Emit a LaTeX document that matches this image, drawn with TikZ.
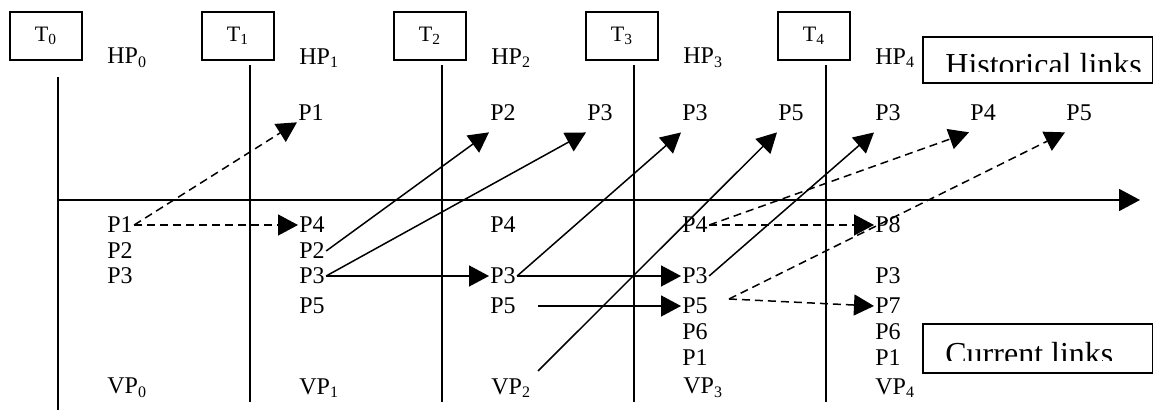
\documentclass[tikz,border=0pt]{standalone}
\usepackage{fontspec}
\setmainfont{Liberation Serif}
\usetikzlibrary{arrows.meta}
\tikzset{%
  time box/.style={
    draw,
    line width=0.9pt,
    minimum width=36pt,
    minimum height=24pt,
    font=\fontsize{11}{13}\selectfont
  },
  peer/.style={
    anchor=west,
    inner sep=0.5pt,
    font=\fontsize{12}{14}\selectfont
  },
  link box/.style={
    draw,
    line width=0.9pt,
    anchor=north west,
    minimum width=115pt
  },
  link text/.style={
    anchor=base west,
    inner sep=0pt,
    font=\fontsize{16}{19}\selectfont
  },
  time line/.style={line width=0.9pt},
  link/.style={-{Triangle[length=10pt,width=10.5pt]}, line width=0.75pt},
  old link/.style={link, dash pattern=on 4pt off 2.5pt},
}
\begin{document}
\begin{tikzpicture}[x=0.5pt, y=-0.5pt]
        \useasboundingbox (0,0) rectangle (1153,410);

        % time steps
        \foreach \i in {0,...,4} {
        \node [time box] (t\i) at (46+192*\i,36) {T\textsubscript{\i}};
        \node [peer] (hp\i) at (106+192*\i,58) {HP\textsubscript{\i}};
        \node [peer] (vp\i) at (106+192*\i,388) {VP\textsubscript{\i}};
        }
        \draw [time line] (58,77) -- (58,410);
        \foreach \i in {1,...,4}
        \draw [time line] (58+192*\i,65) -- (58+192*\i,402);

        \draw [time line, -{Triangle[length=10.5pt,width=11pt]}] (58,200) -- (1140,200);

        % historical peers
        \foreach \n/\x/\l in {h1/297/1, h2a/489/2, h2b/586/3, h3a/681/3,
          h3b/777/5, h4a/874/3, h4b/969/4, h4c/1065/5}
        \node [peer] (\n) at (\x,113) {P\l};

        % current peers
        \foreach \n/\x/\y/\l in {c0-1/106/225/1, c0-2/106/251/2, c0-3/106/276/3,
          c1-1/298/225/4, c1-2/298/251/2, c1-3/298/276/3, c1-4/298/306/5,
          c2-1/489/225/4, c2-3/489/276/3, c2-4/489/306/5,
          c3-1/681/225/4, c3-3/681/276/3, c3-4/681/306/5, c3-5/681/332/6, c3-6/681/358/1,
          c4-1/874/225/8, c4-3/874/276/3, c4-4/874/306/7, c4-5/874/332/6, c4-6/874/358/1}
        \node [peer] (\n) at (\x,\y) {P\l};

        % legend
        \begin{scope}
        \clip (922,36) rectangle (1152,72);
        \node [link text] (hist) at (945,76) {Historical links};
        \end{scope}
        \node [link box, minimum height=23pt] (histbox) at (922,36) {};

        \begin{scope}
        \clip (922,323) rectangle (1152,361);
        \node [link text] (cur) at (945,365) {Current links};
        \end{scope}
        \node [link box, minimum height=24.5pt] (curbox) at (922,323) {};

        % links
        \coordinate (s5) at (538,306);
        \coordinate (v2) at (538,371);
        \coordinate (x3) at (729,299);

        \draw [old link] (c0-1.east) -- (h1.south west);
        \draw [old link] (c0-1.east) -- (c1-1.west);
        \draw [link] (c1-2.east) -- ([yshift=-5pt]h2a.south west);
        \draw [link] (c1-3.east) -- ([yshift=-5pt]h2b.south west);
        \draw [link] (c1-3.east) -- (c2-3.west);
        \draw [link] (c2-3.east) -- ([yshift=-5pt]h3a.south west);
        \draw [link] (c2-3.east) -- (c3-3.west);
        \draw [link] (s5) -- (c3-4.west);
        \draw [link] (v2) -- ([yshift=-5pt]h3b.south west);
        \draw [link] (c3-3.east) -- ([yshift=-5pt]h4a.south west);
        \draw [old link] (c3-1.east) -- ([yshift=-5pt]h4b.south west);
        \draw [old link] (c3-1.east) -- (c4-1.west);
        \draw [old link] (x3) -- ([yshift=-5pt]h4c.south west);
        \draw [old link] (x3) -- (c4-4.west);

    \end{tikzpicture}
\end{document}
